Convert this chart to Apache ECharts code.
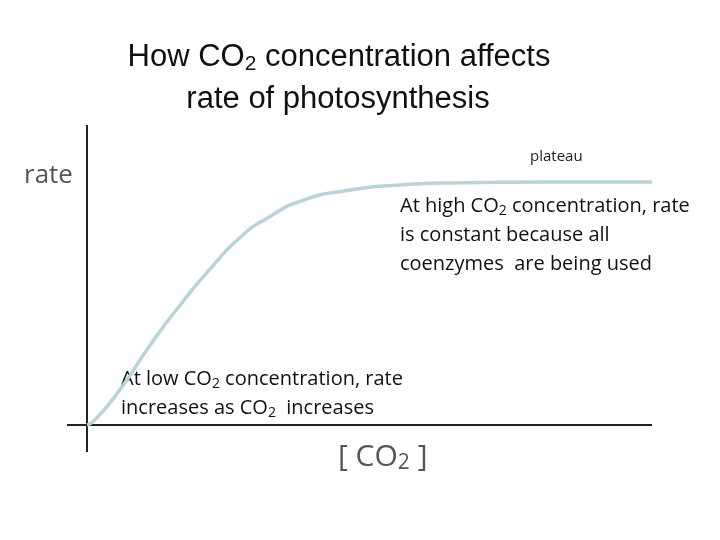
<!DOCTYPE html>
<html><head><meta charset="utf-8">
<script src="https://cdn.jsdelivr.net/npm/echarts@6/dist/echarts.min.js"></script>
<style>html,body{margin:0;padding:0;background:#fff}#c{width:720px;height:540px}</style>
</head><body><div id="c"></div>
<script>
const curveX = [0, 1.4, 5.8, 11.2, 16.5, 21.8, 27.1, 32.4, 38.4, 45.5, 55.4, 64.2, 81.9, 100];
const curveY = [0, 1.7, 11.7, 26.7, 40, 52, 62.5, 69.5, 75, 78, 80, 80.7, 81, 81];
const chart = echarts.init(document.getElementById('c'));
const F = 'Liberation Sans, Arial, sans-serif';
const C = 'Open Sans, Noto Sans, sans-serif';
chart.setOption({
  animation:false,
  grid:{left:87,right:68,top:125,bottom:115},
  xAxis:{type:'value',min:0,max:100,show:false},
  yAxis:{type:'value',min:0,max:100,show:false},
  series:[{type:'line',smooth:0.6,symbol:'none',data:curveX.map((x,i)=>[x,curveY[i]]),
    lineStyle:{color:'#b9d4d7',width:3.5},z:2}],
  graphic:[
    {type:'line',shape:{x1:87,y1:125,x2:87,y2:452},style:{stroke:'#222',lineWidth:2}},
    {type:'line',shape:{x1:67,y1:425,x2:652,y2:425},style:{stroke:'#222',lineWidth:2}},
    {type:'text',x:339,y:39,style:{text:'How {t|CO}{s|2} concentration affects',textAlign:'center',font:'31px '+F,fill:'#111',
      rich:{t:{fontSize:31,fontFamily:F},s:{fontSize:21,fontFamily:F,padding:[15,0,0,0]}}}},
    {type:'text',x:338,y:84,style:{text:'rate of photosynthesis',textAlign:'center',font:'31px '+F,fill:'#111'}},
    {type:'text',x:24,y:163,style:{text:'rate',font:'26px '+C,fill:'#555'}},
    {type:'text',x:530,y:149,style:{text:'plateau',font:'15px '+C,fill:'#222'}},
    {type:'text',x:400,y:192,style:{text:'At high CO{s|2} concentration, rate\nis constant because all\ncoenzymes  are being used',
      font:'20px '+C,fill:'#111',lineHeight:29,rich:{s:{fontSize:14,fontFamily:C,padding:[10,0,0,0]}}}},
    {type:'text',x:121,y:365,style:{text:'At low CO{s|2} concentration, rate\nincreases as CO{s|2}  increases',
      font:'20px '+C,fill:'#111',lineHeight:29,rich:{s:{fontSize:14,fontFamily:C,padding:[10,0,0,0]}}}},
    {type:'text',x:338,y:441,style:{text:'[ CO{s|2} ]',font:'30px '+C,fill:'#555',
      rich:{s:{fontSize:21,fontFamily:C,padding:[12,0,0,0]}}}}
  ]
});
</script></body></html>
